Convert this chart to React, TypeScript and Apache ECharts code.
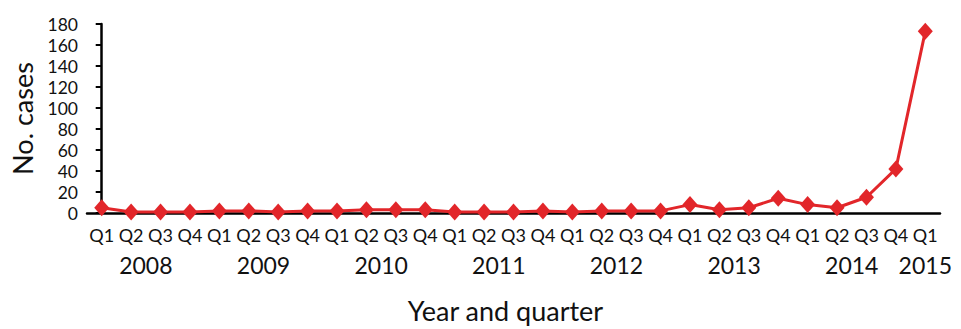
import React, { useEffect, useRef } from "react";
import * as echarts from "echarts";

const quarters = [
  "Q1","Q2","Q3","Q4","Q1","Q2","Q3","Q4","Q1","Q2","Q3","Q4",
  "Q1","Q2","Q3","Q4","Q1","Q2","Q3","Q4","Q1","Q2","Q3","Q4",
  "Q1","Q2","Q3","Q4","Q1",
];
const cases = [5,1,1,1,2,2,1,2,2,3,3,3,1,1,1,2,1,2,2,2,8,3,5,14,8,5,15,42,173];
const years = ["2008","2009","2010","2011","2012","2013","2014","2015"];
const yearPositions = [1.5, 5.5, 9.5, 13.5, 17.5, 21.5, 25.5, 28];
const yTicks = { min: 0, max: 180, interval: 20 };

const FONT = "Lato, 'Open Sans', sans-serif";

export default function App() {
  const ref = useRef<HTMLDivElement>(null);
  useEffect(() => {
    if (!ref.current) return;
    const chart = echarts.init(ref.current, undefined, { renderer: "svg" });
    chart.setOption({
      animation: false,
      backgroundColor: "#ffffff",
      grid: { left: 87, right: 21, top: 24, bottom: 115, containLabel: false },
      xAxis: [
        {
          type: "category",
          data: quarters,
          boundaryGap: true,
          axisLine: { lineStyle: { color: "#000", width: 2.5 } },
          axisTick: { show: false },
          axisLabel: { color: "#111", fontFamily: FONT, fontSize: 18, margin: 13, interval: 0 },
          name: "Year and quarter",
          nameLocation: "middle",
          nameGap: 84,
          nameTextStyle: { color: "#111", fontFamily: FONT, fontSize: 27, padding: [0, 16, 0, 0] },
          z: 1,
        },
        {
          type: "value",
          position: "bottom",
          offset: 30,
          min: -0.5,
          max: 28.5,
          interval: 0.5,
          axisLine: { show: false },
          axisTick: { show: false },
          splitLine: { show: false },
          axisLabel: {
            color: "#111",
            fontFamily: FONT,
            fontSize: 23,
            margin: 10,
            showMinLabel: true,
            showMaxLabel: true,
            formatter: (v: number) => {
              const i = yearPositions.findIndex((p) => Math.abs(p - v) < 1e-6);
              return i >= 0 ? years[i] : "";
            },
          },
        },
      ],
      yAxis: {
        type: "value",
        min: yTicks.min,
        max: yTicks.max,
        interval: yTicks.interval,
        axisLine: { show: true, lineStyle: { color: "#000", width: 2.5 } },
        axisTick: { show: true, inside: false, length: 6, lineStyle: { color: "#000", width: 2 } },
        splitLine: { show: false },
        axisLabel: { color: "#111", fontFamily: FONT, fontSize: 17.5, lineHeight: 18, margin: 9 },
        name: "No. cases",
        nameLocation: "middle",
        nameGap: 51,
        nameTextStyle: { color: "#111", fontFamily: FONT, fontSize: 27 },
      },
      series: [
        {
          type: "line",
          data: cases,
          xAxisIndex: 0,
          symbol: "diamond",
          symbolSize: [15, 17],
          lineStyle: { color: "#e2262a", width: 3 },
          itemStyle: { color: "#e2262a" },
          z: 3,
        },
      ],
    });
    return () => chart.dispose();
  }, []);
  return (
    <div
      ref={ref}
      style={{ position: "absolute", left: 0, top: 0, width: 961, height: 329 }}
    />
  );
}
